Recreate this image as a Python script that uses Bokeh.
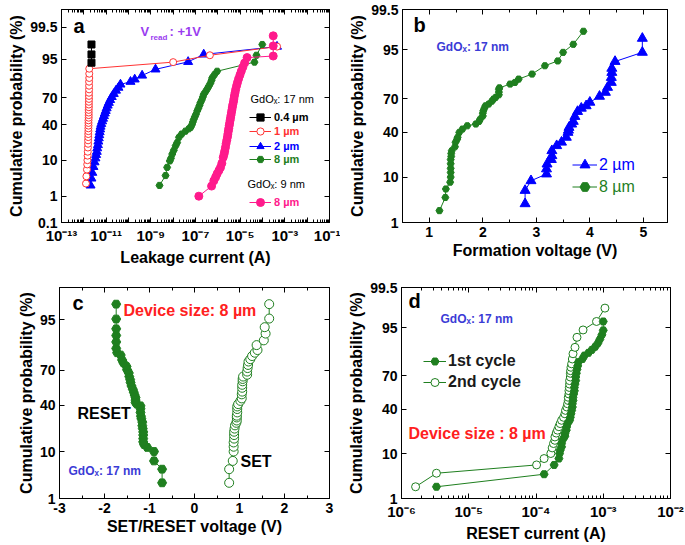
from statistics import NormalDist
from bokeh.plotting import figure
from bokeh.models import (Range1d, FixedTicker, CustomJSTickFormatter, LinearAxis, LogAxis,
                          Legend, LegendItem, Label)
from bokeh.layouts import column, row
from bokeh.embed import file_html
from bokeh.resources import INLINE
from bokeh.core.properties import value

# ---------------- data ----------------
# (a) leakage current (A) vs cumulative probability (%)
a_ytick_pct = [0.1, 1, 10, 40, 70, 95, 99.5]
a_ytick_lab = ["0.1", "1", "10", "40", "70", "95", "99.5"]

a04_current = [2.2e-12, 2.2e-12, 2.2e-12]
a04_prob = [93.9, 96.3, 98.1]

a1_current = [1.25e-12, 1.30e-12, 1.38e-12, 1.42e-12, 1.45e-12, 1.48e-12, 1.50e-12, 1.52e-12, 1.55e-12, 1.55e-12,
              1.58e-12, 1.58e-12, 1.60e-12, 1.60e-12, 1.62e-12, 1.62e-12, 1.62e-12, 1.65e-12, 1.65e-12, 1.65e-12,
              1.65e-12, 1.68e-12, 1.68e-12, 1.68e-12, 1.70e-12, 1.70e-12, 1.70e-12, 1.72e-12, 1.72e-12, 1.72e-12,
              1.75e-12, 1.75e-12, 1.75e-12, 1.0e-8, 4.4e-7, 4.5e-4]
a1_prob = [2.5, 4, 6, 8, 10, 12.5, 15, 18, 21, 24, 27, 30, 33, 36, 39, 42, 45, 48, 51, 54,
           57, 60, 63, 66, 69, 72, 75, 78, 81, 84, 86.5, 89, 91.5, 94.1, 96.1, 97.8]

a2_current = [2.0e-12, 2.19e-12, 2.4e-12, 2.69e-12, 3.02e-12, 3.31e-12, 3.55e-12, 3.8e-12, 3.98e-12, 4.27e-12,
              4.47e-12, 4.68e-12, 4.9e-12, 5.13e-12, 5.37e-12, 5.62e-12, 6.03e-12, 6.6e-12, 7.24e-12, 7.94e-12,
              8.7e-12, 9.55e-12, 1.05e-11, 1.17e-11, 1.32e-11, 1.51e-11, 1.78e-11, 2.19e-11, 2.75e-11, 3.55e-11,
              4.37e-11, 1.23e-10, 1.9e-10, 4.07e-10, 1.62e-9, 4.68e-8, 2.34e-7, 4.47e-4]
a2_prob = [2.2, 3.5, 5, 7, 9, 11, 13, 15, 17.5, 20, 23, 26, 29, 32, 35, 38, 41, 44, 47, 50,
           53, 56, 59, 62, 65, 68, 71, 74, 77, 79.5, 82, 84, 85.6, 88, 91.2, 94.2, 96.3, 97.8]

a8_current = [2.45e-9, 4.57e-9, 5.37e-9, 7.08e-9, 7.94e-9, 9.12e-9, 1.07e-8, 1.29e-8, 1.51e-8, 1.82e-8,
              2.4e-8, 3.55e-8, 5.01e-8, 6.03e-8, 6.92e-8, 7.59e-8, 8.32e-8, 9.33e-8, 1.05e-7, 1.2e-7,
              1.35e-7, 1.51e-7, 1.66e-7, 1.91e-7, 2.14e-7, 2.34e-7, 2.82e-7, 3.39e-7, 3.98e-7, 4.68e-7,
              5.25e-7, 5.62e-7, 7.08e-7, 9.33e-7, 4.37e-5, 5.37e-5, 9.77e-5]
a8_prob = [2.2, 4.2, 6.8, 9.6, 11, 13.5, 16, 19.4, 22, 26.8, 30, 33, 35.5, 37, 40, 43, 46, 49, 52, 56,
           59, 62, 65, 68, 71, 73.6, 76, 78.5, 80.8, 83, 85, 86.6, 88.5, 90.3, 94.1, 96.1, 98.1]

a9nm_current = [1.41e-7, 5.25e-7, 6.61e-7, 7.94e-7, 9.33e-7, 1.12e-6, 1.32e-6, 1.51e-6, 1.74e-6, 1.91e-6,
                2.04e-6, 2.19e-6, 2.34e-6, 2.51e-6, 2.69e-6, 2.82e-6, 2.95e-6, 3.09e-6, 3.24e-6, 3.39e-6,
                3.55e-6, 3.72e-6, 3.89e-6, 4.07e-6, 4.27e-6, 4.47e-6, 4.68e-6, 5.01e-6, 5.25e-6, 5.5e-6,
                5.89e-6, 6.31e-6, 6.92e-6, 7.59e-6, 8.51e-6, 9.77e-6, 1.12e-5, 1.32e-5, 1.58e-5, 2.04e-5,
                3.02e-4, 3.02e-4, 3.02e-4]
a9nm_prob = [1.0, 2.1, 3.0, 3.8, 4.7, 5.7, 6.8, 8.5, 11.5, 13.5, 15.5, 18, 21, 24, 27, 30, 33, 36, 39, 42,
             45, 48, 51, 54, 57, 60, 63, 66, 69, 72, 75, 78, 81, 83.5, 86, 88.3, 90.3, 92.2, 93.8, 95.5,
             95.9, 97.9, 99.0]

# (b) formation voltage (V)
b_ytick_pct = [1, 10, 40, 70, 95, 99.5]
b_ytick_lab = ["1", "10", "40", "70", "95", "99.5"]
b_xticks = [1, 2, 3, 4, 5]
b2_volt = [2.79, 2.79, 2.90, 3.19, 3.19, 3.20, 3.28, 3.29, 3.29, 3.38, 3.47, 3.56, 3.59, 3.60, 3.61, 3.66,
           3.69, 3.72, 3.77, 3.84, 3.93, 4.00, 4.18, 4.29, 4.33, 4.40, 4.40, 4.41, 4.41, 4.47, 4.98, 4.98]
b2_prob = [2.9, 5.6, 8.6, 11.3, 13.7, 16.3, 19, 21.5, 25, 28.8, 31.6, 35.7, 40, 42, 44.5, 47.5,
           50, 54.5, 59, 61.9, 64, 67, 71.8, 74.8, 78.3, 81.5, 84.4, 87, 88.9, 91.6, 94.4, 97.2]
b8_volt = [1.19, 1.30, 1.31, 1.39, 1.40, 1.40, 1.40, 1.40, 1.40, 1.41, 1.41, 1.42, 1.48, 1.49, 1.52, 1.53,
           1.56, 1.62, 1.71, 1.87, 1.93, 1.95, 2.00, 2.00, 2.01, 2.03, 2.05, 2.11, 2.17, 2.20, 2.24, 2.30,
           2.30, 2.30, 2.31, 2.51, 2.60, 2.67, 2.92, 3.16, 3.40, 3.50, 3.69, 3.88]
b8_prob = [2.0, 4.0, 6.0, 8.1, 10, 12, 14, 16.5, 19, 21, 23, 25, 28, 31.6, 34, 35.7,
           40, 43, 46, 47.6, 50, 52, 55, 57.5, 59.7, 62, 64, 65.5, 68, 69.6, 71, 73,
           75, 77, 78, 80.5, 81.5, 83.5, 86.2, 90, 91.8, 94.4, 96.2, 98.1]

# (c) SET / RESET voltage (V)
c_ytick_pct = [1, 10, 40, 70, 95]
c_ytick_lab = ["1", "10", "40", "70", "95"]
c_xticks = [-3, -2, -1, 0, 1, 2, 3]
c_reset_volt = [-0.72, -0.72, -0.90, -0.90, -1.05, -1.12, -1.14, -1.14, -1.14, -1.14, -1.15, -1.16, -1.16, -1.18,
                -1.19, -1.20, -1.20, -1.20, -1.28, -1.31, -1.31, -1.31, -1.33, -1.35, -1.37, -1.40, -1.42, -1.43,
                -1.45, -1.46, -1.50, -1.51, -1.58, -1.61, -1.64, -1.72, -1.74, -1.74, -1.74, -1.74, -1.74, -1.74]
c_reset_prob = [2.4, 4.7, 6.8, 10, 11.7, 13, 14.3, 16, 18, 19.9, 22, 24, 26.5, 29,
                31, 34, 37, 39.5, 41, 42.4, 44.5, 46.7, 49, 51.5, 54, 57, 60, 62.5,
                65, 67.9, 70.5, 72.9, 75.5, 77.5, 80.6, 82, 84.4, 87.6, 90.3, 92.6, 95.2, 97.7]
c_set_volt = [0.77, 0.77, 0.85, 0.87, 0.87, 0.87, 0.88, 0.88, 0.88, 0.89, 0.90, 0.93, 0.94, 0.94, 0.94,
              0.95, 0.95, 0.95, 0.97, 1.02, 1.05, 1.05, 1.06, 1.06, 1.06, 1.07, 1.07, 1.08, 1.17, 1.17,
              1.18, 1.19, 1.20, 1.24, 1.28, 1.34, 1.40, 1.38, 1.54, 1.58, 1.56, 1.66, 1.66]
c_set_prob = [2.4, 4.7, 6.8, 10, 12, 14, 16, 18, 20, 22, 24.2, 26, 27.7, 30, 31.4,
              34, 36.8, 39, 41, 43.8, 46, 49.6, 52, 55.4, 58, 61, 63, 65, 66.5, 69,
              71.7, 74, 76.4, 78, 80, 82, 83.5, 86.1, 88.3, 91, 93.1, 95.3, 97.7]

# (d) RESET current (A)
d_ytick_pct = [1, 10, 40, 70, 95, 99.5]
d_ytick_lab = ["1", "10", "40", "70", "95", "99.5"]
d1_current = [3.31e-6, 1.32e-4, 1.86e-4, 2.19e-4, 2.24e-4, 2.29e-4, 2.4e-4, 2.4e-4, 2.51e-4, 2.69e-4,
              2.69e-4, 2.82e-4, 2.85e-4, 2.95e-4, 3.16e-4, 3.24e-4, 3.31e-4, 3.39e-4, 3.47e-4, 3.47e-4,
              3.55e-4, 3.55e-4, 3.63e-4, 3.72e-4, 3.72e-4, 3.8e-4, 3.89e-4, 3.89e-4, 3.98e-4, 4.07e-4,
              4.17e-4, 4.27e-4, 4.9e-4, 5.25e-4, 6.03e-4, 6.76e-4, 7.59e-4, 8.32e-4, 8.91e-4, 9.55e-4,
              1.0e-3, 1.0e-3]
d1_prob = [2.0, 3.9, 6.1, 8.1, 10, 11.4, 13, 14.7, 17, 19, 20.7, 23, 25.3, 28, 30.5, 33, 36, 39, 42, 45,
           48, 51, 54, 57, 60, 63, 66, 69, 72, 75, 77.5, 80, 82, 84, 85.5, 87, 88.5, 90, 91.5, 93, 94.3, 96.3]
d2_current = [1.62e-6, 3.31e-6, 1.02e-4, 1.32e-4, 1.66e-4, 1.74e-4, 1.82e-4, 1.91e-4, 1.91e-4, 2.0e-4,
              2.09e-4, 2.19e-4, 2.29e-4, 2.4e-4, 2.57e-4, 2.69e-4, 2.75e-4, 2.88e-4, 2.95e-4, 3.02e-4,
              3.02e-4, 3.09e-4, 3.09e-4, 3.13e-4, 3.16e-4, 3.16e-4, 3.24e-4, 3.24e-4, 3.27e-4, 3.31e-4,
              3.39e-4, 3.47e-4, 3.55e-4, 3.8e-4, 4.07e-4, 5.01e-4, 7.94e-4, 1.06e-3]
d2_prob = [2.0, 4.1, 6.1, 8.1, 10, 12.5, 14.7, 16.5, 18.5, 21, 23, 25.5, 27.9, 30.5, 33, 36, 39, 42, 45, 48,
           51, 54, 57, 60, 63, 66, 69, 72, 74, 76.5, 78.9, 82, 85, 88.2, 92.2, 94.4, 96.3, 98.2]

# ---------------- styling ----------------
FONT = "Liberation Sans"
GREEN = "#1f7f1f"
BLUE = "#0000ff"
RED = "#ff3333"
PINK = "#ff1a8c"
TXT_BLUE = "#3b3bd6"
TXT_RED = "#ff2020"
PURPLE = "#9a3cf0"

ND = NormalDist()


def probit(ps):
    return [ND.inv_cdf(p / 100.0) for p in ps]


def make_fig(width, height, xr, yr_pct, xlog, l, r, t, b):
    y0, y1 = probit(yr_pct)
    p = figure(width=width, height=height, x_range=Range1d(*xr), y_range=Range1d(y0, y1),
               x_axis_type="log" if xlog else "linear", output_backend="svg",
               toolbar_location=None, tools="", min_border_left=l, min_border_right=r,
               min_border_top=t, min_border_bottom=b)
    p.grid.visible = False
    p.outline_line_color = "black"
    p.outline_line_width = 1
    p.background_fill_color = "white"
    p.border_fill_color = "white"
    return p


def tick_style(ax):
    ax.major_tick_in = 5
    ax.major_tick_out = 0
    ax.minor_tick_in = 3
    ax.minor_tick_out = 0
    ax.axis_line_color = "black"
    ax.major_tick_line_color = "black"
    ax.minor_tick_line_color = "black"


def label_style(ax, text, size="14px"):
    ax.major_label_text_font = FONT
    ax.major_label_text_font_size = size
    ax.major_label_text_font_style = "bold"
    ax.major_label_text_color = "black"
    ax.major_label_standoff = 4
    ax.axis_label = text
    ax.axis_label_text_font = FONT
    ax.axis_label_text_font_size = "16px"
    ax.axis_label_text_font_style = "bold"
    ax.axis_label_text_color = "black"
    ax.axis_label_standoff = 2


def blank(ax):
    ax.formatter = CustomJSTickFormatter(code="return '';")
    ax.major_label_standoff = 0
    ax.major_label_text_font_size = "1px"


def setup_axes(p, ytick_pct, ytick_lab, xticker, xformatter, xlabel, xlog):
    zs = probit(ytick_pct)
    yticker = FixedTicker(ticks=zs)
    yfmt = CustomJSTickFormatter(args=dict(zs=zs, labs=ytick_lab), code="""
        for (let i = 0; i < zs.length; i++) { if (Math.abs(zs[i] - tick) < 1e-6) return labs[i]; }
        return '';""")
    ya = p.yaxis[0]
    ya.ticker = yticker
    ya.formatter = yfmt
    tick_style(ya)
    label_style(ya, "Cumulative probability (%)")
    xa = p.xaxis[0]
    xa.ticker = xticker
    xa.formatter = xformatter
    tick_style(xa)
    label_style(xa, xlabel, "15px" if xlog else "14px")
    right = LinearAxis(ticker=yticker)
    tick_style(right)
    blank(right)
    p.add_layout(right, "right")
    top = LogAxis(ticker=xticker) if xlog else LinearAxis(ticker=xticker)
    tick_style(top)
    blank(top)
    p.add_layout(top, "above")


SUP_CODE = """
    const e = Math.round(Math.log10(tick));
    if (odd_only && Math.abs(e) % 2 == 0) return '';
    const sup = {'-': '\u207b', '0': '\u2070', '1': '\u00b9', '2': '\u00b2', '3': '\u00b3', '4': '\u2074',
                 '5': '\u2075', '6': '\u2076', '7': '\u2077', '8': '\u2078', '9': '\u2079'};
    return '10' + String(e).split('').map(c => sup[c]).join('');
"""


def log_ticker(e0, e1):
    majors = [10.0 ** k for k in range(e0, e1 + 1)]
    minors = [m * 10.0 ** k for k in range(e0, e1) for m in range(2, 10)]
    return FixedTicker(ticks=majors, minor_ticks=minors)


def add_label(p, x, y, text, color="black", size="14px", style="bold"):
    p.add_layout(Label(x=x, y=y, x_units="screen", y_units="screen", text=text, text_color=color,
                       text_font=FONT, text_font_size=size, text_font_style=style,
                       text_baseline="middle", text_align="left"))


def add_legend(p, renderers, text, color, loc, size="11px", style="bold", gw=22, gh=18, standoff=3):
    lg = Legend(items=[LegendItem(label=value(text), renderers=renderers)], location=loc,
                padding=0, margin=0, spacing=0, glyph_width=gw, glyph_height=gh, label_height=gh,
                label_standoff=standoff, label_text_color=color, label_text_font=FONT,
                label_text_font_style=style, label_text_font_size=size,
                border_line_alpha=0, background_fill_alpha=0)
    p.add_layout(lg)


def series(p, x, prob, color, marker, size, fill=None):
    ln = p.line(x, probit(prob), line_color=color, line_width=1)
    sc = p.scatter(x, probit(prob), marker=marker, size=size, line_color=color,
                   fill_color=fill if fill else color, line_width=1)
    return [ln, sc]


# ---------------- panel a ----------------
pa = make_fig(340, 272, (1e-13, 1e-1), (0.1, 99.9), True, 61, 11, 9, 50)
setup_axes(pa, a_ytick_pct, a_ytick_lab, log_ticker(-13, -1),
           CustomJSTickFormatter(args=dict(odd_only=True), code=SUP_CODE), "Leakage current (A)", True)
r2 = series(pa, a2_current, a2_prob, BLUE, "triangle", 9)
r1 = series(pa, a1_current, a1_prob, RED, "circle", 7, fill="white")
r04 = series(pa, a04_current, a04_prob, "black", "square", 7)
r8 = series(pa, a8_current, a8_prob, GREEN, "hex", 7)
r9 = series(pa, a9nm_current, a9nm_prob, PINK, "circle", 8)
add_label(pa, 12, 197, "a", size="20px")
add_label(pa, 79, 191, "V", color=PURPLE, size="13px")
add_label(pa, 89, 185, "read", color=PURPLE, size="8px")
add_label(pa, 108, 191, ": +1V", color=PURPLE, size="13px")
add_label(pa, 189, 124, "GdO\u2093: 17 nm", size="11px", style="normal")
add_label(pa, 186, 39, "GdO\u2093: 9 nm", size="11px", style="normal")
add_legend(pa, r04, "0.4 \u00b5m", "black", (188, 96))
add_legend(pa, r1, "1 \u00b5m", RED, (188, 82))
add_legend(pa, r2, "2 \u00b5m", BLUE, (188, 67))
add_legend(pa, r8, "8 \u00b5m", GREEN, (188, 54))
add_legend(pa, r9, "8 \u00b5m", PINK, (188, 10), gh=20)

# ---------------- panel b ----------------
pb = make_fig(344, 272, (0.5, 5.45), (1, 99.5), False, 62, 17, 8, 50)
setup_axes(pb, b_ytick_pct, b_ytick_lab,
           FixedTicker(ticks=b_xticks, minor_ticks=[1.5, 2.5, 3.5, 4.5]),
           CustomJSTickFormatter(code="return String(Math.round(tick));"), "Formation voltage (V)", False)
rb8 = series(pb, b8_volt, b8_prob, GREEN, "hex", 7)
rb2 = series(pb, b2_volt, b2_prob, BLUE, "triangle", 10)
add_label(pb, 11, 198, "b", size="20px")
add_label(pb, 34, 176, "GdO\u2093: 17 nm", color=TXT_BLUE, size="12px")
add_legend(pb, rb2, "2 \u00b5m", BLUE, (170, 45), size="16px", style="normal", gw=25, gh=25, standoff=2)
add_legend(pb, rb8, "8 \u00b5m", GREEN, (170, 23), size="16px", style="normal", gw=25, gh=25, standoff=2)

# ---------------- panel c ----------------
pc = make_fig(340, 272, (-3, 3), (1, 99.1), False, 59, 11, 14, 43)
setup_axes(pc, c_ytick_pct, c_ytick_lab,
           FixedTicker(ticks=c_xticks, minor_ticks=[-2.5, -1.5, -0.5, 0.5, 1.5, 2.5]),
           CustomJSTickFormatter(code="return String(Math.round(tick));"), "SET/RESET voltage (V)", False)
series(pc, c_reset_volt, c_reset_prob, GREEN, "hex", 9)
series(pc, c_set_volt, c_set_prob, GREEN, "circle", 9, fill="white")
add_label(pc, 13, 196, "c", size="20px")
add_label(pc, 64, 188, "Device size: 8 \u00b5m", color=TXT_RED, size="16px")
add_label(pc, 18, 85, "RESET", size="16px")
add_label(pc, 181, 37, "SET", size="16px")
add_label(pc, 9, 28, "GdO\u2093: 17 nm", color=TXT_BLUE, size="12px")

# ---------------- panel d ----------------
pd_ = make_fig(344, 272, (1e-6, 1e-2), (1, 99.5), True, 61, 14, 15, 46)
setup_axes(pd_, d_ytick_pct, d_ytick_lab, log_ticker(-6, -2),
           CustomJSTickFormatter(args=dict(odd_only=False), code=SUP_CODE), "RESET current (A)", True)
rd2 = series(pd_, d2_current, d2_prob, GREEN, "circle", 8, fill="white")
rd1 = series(pd_, d1_current, d1_prob, GREEN, "hex", 8)
add_label(pd_, 7, 198, "d", size="20px")
add_label(pd_, 39, 180, "GdO\u2093: 17 nm", color=TXT_BLUE, size="12px")
add_label(pd_, 7, 65, "Device size : 8 \u00b5m", color=TXT_RED, size="16px")
add_legend(pd_, rd1, "1st cycle", "#1a1a1a", (22, 127), size="16px", gw=23, gh=20, standoff=2)
add_legend(pd_, rd2, "2nd cycle", "#1a1a1a", (22, 106), size="16px", gw=23, gh=20, standoff=2)

layout = column(row(pa, pb), row(pc, pd_))
open("out.html", "w", encoding="utf-8").write(file_html(layout, INLINE))
